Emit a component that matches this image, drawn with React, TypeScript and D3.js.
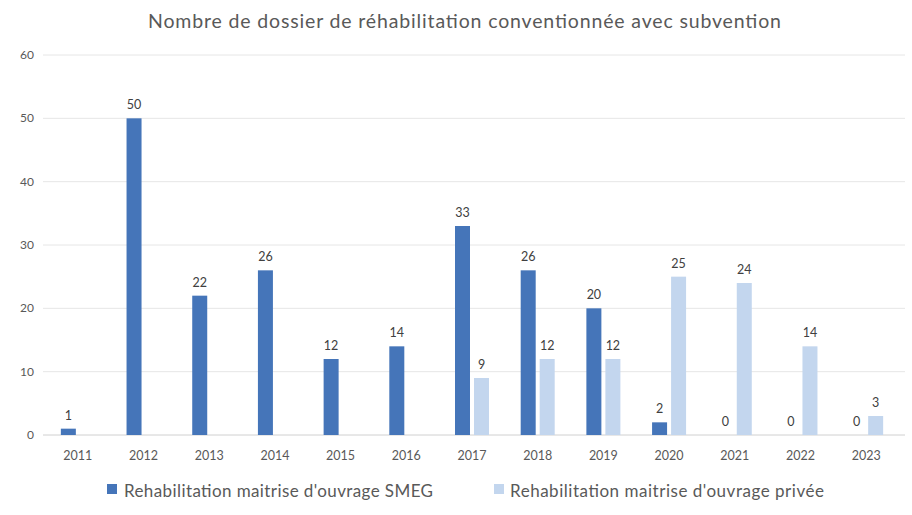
import React from "react";
import * as d3 from "d3";

const years = ["2011","2012","2013","2014","2015","2016","2017","2018","2019","2020","2021","2022","2023"];
const smeg = [1,50,22,26,12,14,33,26,20,2,0,0,0];
const privee: (number | null)[] = [null,null,null,null,null,null,9,12,12,25,24,14,3];
const yTicks = [0,10,20,30,40,50,60];
const seriesNames = ["Rehabilitation maitrise d'ouvrage SMEG", "Rehabilitation maitrise d'ouvrage privée"];
const title = "Nombre de dossier de réhabilitation conventionnée avec subvention";

const W = 912, H = 515;
const FONT = "Lato, 'Open Sans', sans-serif";
const DARK = "#4575b9";
const LIGHT = "#c3d6ee";

export default function App() {
  const x = d3.scaleBand<string>().domain(years).range([45, 899]);
  const y = d3.scaleLinear().domain([0, 60]).range([435, 55]);
  const bw = 15;
  const gap = 2;
  return (
    <svg width={W} height={H} style={{ position: "absolute", left: 0, top: 0, background: "#fff" }} fontFamily={FONT}>
      <text x={148} y={28} fontSize={19.5} fill="#595959" textLength={633} lengthAdjust="spacing">{title}</text>
      {yTicks.map(t => (
        <g key={t}>
          <line x1={43} x2={905} y1={y(t)} y2={y(t)} stroke={t === 0 ? "#d0d0d0" : "#e6e6e6"} strokeWidth={1} />
          <text x={34} y={y(t) + 4} textAnchor="end" fontSize={12} fill="#595959">{t}</text>
        </g>
      ))}
      {years.map((yr, i) => {
        const c = (x(yr) as number) + x.bandwidth() / 2;
        const v1 = smeg[i];
        const v2 = privee[i];
        return (
          <g key={yr}>
            <rect x={c - gap - bw} y={y(v1)} width={bw} height={y(0) - y(v1)} fill={DARK} />
            <text x={c - gap - bw / 2} y={y(v1) - 9} textAnchor="middle" fontSize={12.5} fill="#404040">{v1}</text>
            {v2 !== null && (
              <g>
                <rect x={c + gap} y={y(v2)} width={bw} height={y(0) - y(v2)} fill={LIGHT} />
                <text x={c + gap + bw / 2} y={y(v2) - 9} textAnchor="middle" fontSize={12.5} fill="#404040">{v2}</text>
              </g>
            )}
            <text x={c} y={460} textAnchor="middle" fontSize={12.5} fill="#595959">{yr}</text>
          </g>
        );
      })}
      <g>
        <rect x={107} y={484} width={10} height={10} fill={DARK} />
        <text x={124} y={497} fontSize={17} fill="#595959" textLength={309} lengthAdjust="spacing">{seriesNames[0]}</text>
        <rect x={494} y={484} width={10} height={10} fill={LIGHT} />
        <text x={510} y={497} fontSize={17} fill="#595959" textLength={314} lengthAdjust="spacing">{seriesNames[1]}</text>
      </g>
    </svg>
  );
}
